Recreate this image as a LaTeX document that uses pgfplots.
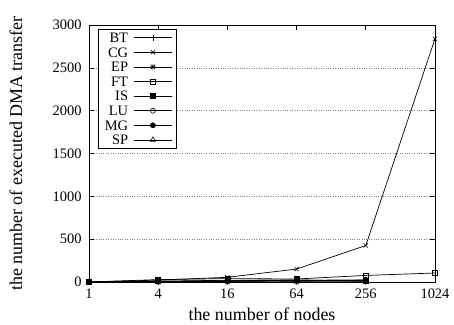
\documentclass[border=0pt]{standalone}
\usepackage{fontspec}
\setmainfont{Liberation Serif}
\usepackage{pgfplots}
\pgfplotsset{compat=1.18}
\pgfdeclareplotmark{gpstar}{%
  \pgfpathmoveto{\pgfqpoint{-\pgfplotmarksize}{0pt}}%
  \pgfpathlineto{\pgfqpoint{\pgfplotmarksize}{0pt}}%
  \pgfpathmoveto{\pgfqpoint{0pt}{-\pgfplotmarksize}}%
  \pgfpathlineto{\pgfqpoint{0pt}{\pgfplotmarksize}}%
  \pgfpathmoveto{\pgfqpoint{-0.75\pgfplotmarksize}{-0.75\pgfplotmarksize}}%
  \pgfpathlineto{\pgfqpoint{0.75\pgfplotmarksize}{0.75\pgfplotmarksize}}%
  \pgfpathmoveto{\pgfqpoint{-0.75\pgfplotmarksize}{0.75\pgfplotmarksize}}%
  \pgfpathlineto{\pgfqpoint{0.75\pgfplotmarksize}{-0.75\pgfplotmarksize}}%
  \pgfusepathqstroke}
\begin{document}
\begin{tikzpicture}
\begin{axis}[
  scale only axis,
  width=346bp, height=257bp,
  xmin=0, xmax=5, ymin=0, ymax=3000,
  xtick={0,1,2,3,4,5},
  xticklabels={1,4,16,64,256,1024},
  ytick={0,500,1000,1500,2000,2500,3000},
  tick align=inside,
  major tick length=5bp,
  minor tick num=0,
  axis line style={line width=0.8bp},
  every tick/.style={black, line width=0.6bp},
  ymajorgrids,
  grid style={dotted, gray, line width=0.6bp},
  /pgf/number format/assume math mode=true,
  /pgf/number format/1000 sep={},
  scaled y ticks=false,
  yticklabel style={font=\fontsize{14.5}{17}\selectfont, xshift=-4bp},
  xticklabel style={font=\fontsize{14.5}{17}\selectfont, yshift=-3bp},
  xlabel={the number of nodes},
  ylabel={the number of executed DMA transfer},
  every axis x label/.style={at={(axis description cs:0.5,-0.127)}, anchor=center, font=\fontsize{18}{20}\selectfont},
  every axis y label/.style={at={(axis description cs:-0.211,0.5)}, anchor=center, rotate=90, font=\fontsize{18}{20}\selectfont},
  legend plot pos=right,
  legend cell align=right,
  legend style={at={(axis description cs:0.026,0.984)}, anchor=north west,
    draw=black, line width=0.6bp, fill=white,
    inner xsep=4bp, inner ysep=1bp, column sep=3bp,
    font=\fontsize{14.5}{17}\selectfont,
    nodes={text height=9.5bp, text depth=0bp, inner xsep=2.5bp, inner ysep=2.55bp}},
  legend image code/.code={\draw[mark repeat=2,mark phase=2] plot coordinates {(0bp,0bp) (19bp,0bp) (38bp,0bp)};},
  every axis plot/.append style={black, line width=0.7bp, mark size=3bp, mark options={solid, line width=0.6bp}},
]
\addplot[mark=+] coordinates {(0,0) (1,5) (2,10) (3,15) (4,20)};
\addlegendentry{BT}
\addplot[mark=x] coordinates {(0,0) (1,22) (2,55) (3,151) (4,426) (5,2840)};
\addlegendentry{CG}
\addplot[mark=gpstar] coordinates {(0,0) (1,1) (2,1) (3,2) (4,3)};
\addlegendentry{EP}
\addplot[mark=square, mark size=2.5bp] coordinates {(0,0) (1,28) (2,40) (3,35) (4,77) (5,105)};
\addlegendentry{FT}
\addplot[mark=square*, mark size=2.5bp] coordinates {(0,0) (1,10) (2,20) (3,25) (4,10)};
\addlegendentry{IS}
\addplot[mark=o, mark size=2.5bp] coordinates {(0,0) (1,5) (2,8) (3,12) (4,15)};
\addlegendentry{LU}
\addplot[mark=*, mark size=2.5bp] coordinates {(0,0) (1,8) (2,15) (3,20) (4,25)};
\addlegendentry{MG}
\addplot[mark=triangle, mark size=3bp] coordinates {(0,0) (1,5) (2,10) (3,15) (4,20)};
\addlegendentry{SP}
\end{axis}
\pgfresetboundingbox
\path[use as bounding box] (current axis.south west) ++(-89bp,-43bp) rectangle ++(454bp,325bp);
\end{tikzpicture}
\end{document}
